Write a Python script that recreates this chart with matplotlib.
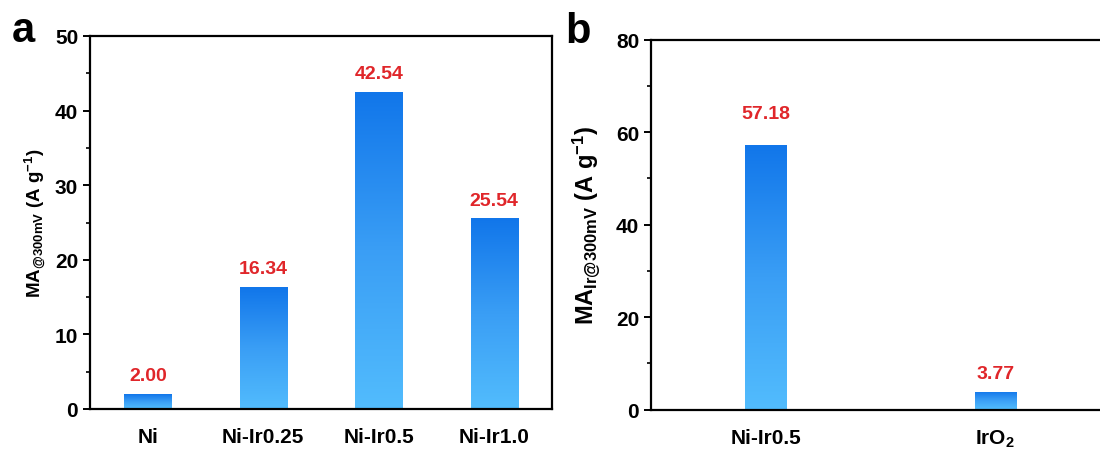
import numpy as np
import matplotlib
matplotlib.use("Agg")
import matplotlib.pyplot as plt
from matplotlib.colors import LinearSegmentedColormap
from matplotlib.ticker import MultipleLocator

plt.rcParams['font.family'] = ['Liberation Sans', 'DejaVu Sans']
plt.rcParams['font.weight'] = 'bold'
plt.rcParams['mathtext.fontset'] = 'custom'
plt.rcParams['mathtext.rm'] = 'Liberation Sans:bold'
plt.rcParams['mathtext.it'] = 'Liberation Sans:bold'
plt.rcParams['mathtext.bf'] = 'Liberation Sans:bold'
plt.rcParams['mathtext.default'] = 'rm'

# Mass activity at 300 mV overpotential
cats_a = ["Ni", "Ni-Ir0.25", "Ni-Ir0.5", "Ni-Ir1.0"]
vals_a = [2.00, 16.34, 42.54, 25.54]

cats_b = ["Ni-Ir0.5", "IrO$_2$"]
vals_b = [57.18, 3.77]

grad = LinearSegmentedColormap.from_list("barblue", ["#52bcfd", "#3a9ef5", "#1176ea"])
RED = "#e0262a"
W, H = 1100, 452


def gradient_bars(ax, x, heights, width):
    bars = ax.bar(x, heights, width=width, color="none", edgecolor="none", zorder=2)
    g = np.linspace(0, 1, 256).reshape(-1, 1)
    for b in bars:
        x0, y0 = b.get_x(), b.get_y()
        w, h = b.get_width(), b.get_height()
        im = ax.imshow(g, cmap=grad, origin="lower", aspect="auto",
                       extent=[x0, x0 + w, y0, y0 + h], zorder=2)
        im.set_clip_path(b)
    return bars


def style(ax):
    for s in ax.spines.values():
        s.set_linewidth(1.6)
    ax.tick_params(axis="y", which="major", direction="out", length=5, width=1.4,
                   labelsize=15, pad=3.5)
    ax.tick_params(axis="y", which="minor", direction="out", length=3, width=1.2)
    ax.tick_params(axis="x", length=0, labelsize=15, pad=13)


def axes_px(left, top, right, bottom):
    return [left / W, 1 - bottom / H, (right - left) / W, (bottom - top) / H]


fig = plt.figure(figsize=(W / 100, H / 100), dpi=100)

# panel a
ax1 = fig.add_axes(axes_px(90, 37, 552, 410))
xa = np.arange(len(cats_a))
gradient_bars(ax1, xa, vals_a, 0.41)
ax1.set_xlim(-0.5, 3.5)
ax1.set_ylim(0, 50)
ax1.yaxis.set_major_locator(MultipleLocator(10))
ax1.yaxis.set_minor_locator(MultipleLocator(5))
ax1.set_xticks(xa)
ax1.set_xticklabels(cats_a)
style(ax1)
ax1.set_ylabel("MA$_{@300mV}$ (A g$^{-1}$)", fontsize=13.5, fontweight="bold")
ax1.yaxis.set_label_coords(-0.09, 0.5)
for x, v in zip(xa, vals_a):
    ax1.annotate(f"{v:.2f}", (x, v), xytext=(0, 7), textcoords="offset points",
                 ha="center", va="bottom", color=RED, fontsize=14, fontweight="bold")
fig.text(12 / W, 1 - 42 / H, "a", fontsize=30, fontweight="bold", va="baseline")

# panel b (axes runs past the right edge of the figure)
ax2 = fig.add_axes(axes_px(651, 40.7, 1110, 410.5))
xb = np.arange(len(cats_b))
gradient_bars(ax2, xb, vals_b, 0.18)
ax2.set_xlim(-0.5, 1.5)
ax2.set_ylim(0, 80)
ax2.yaxis.set_major_locator(MultipleLocator(20))
ax2.yaxis.set_minor_locator(MultipleLocator(10))
ax2.set_xticks(xb)
ax2.set_xticklabels(cats_b)
style(ax2)
ax2.spines["right"].set_visible(False)
ax2.set_ylabel("MA$_{Ir@300mV}$ (A g$^{-1}$)", fontsize=17, fontweight="bold")
ax2.yaxis.set_label_coords(-0.105, 0.5)
label_offsets_b = [17, 7]
for x, v, off in zip(xb, vals_b, label_offsets_b):
    ax2.annotate(f"{v:.2f}", (x, v), xytext=(0, off), textcoords="offset points",
                 ha="center", va="bottom", color=RED, fontsize=14, fontweight="bold")
fig.text(565 / W, 1 - 43 / H, "b", fontsize=30, fontweight="bold", va="baseline")

fig.savefig("out.png", dpi=100)
